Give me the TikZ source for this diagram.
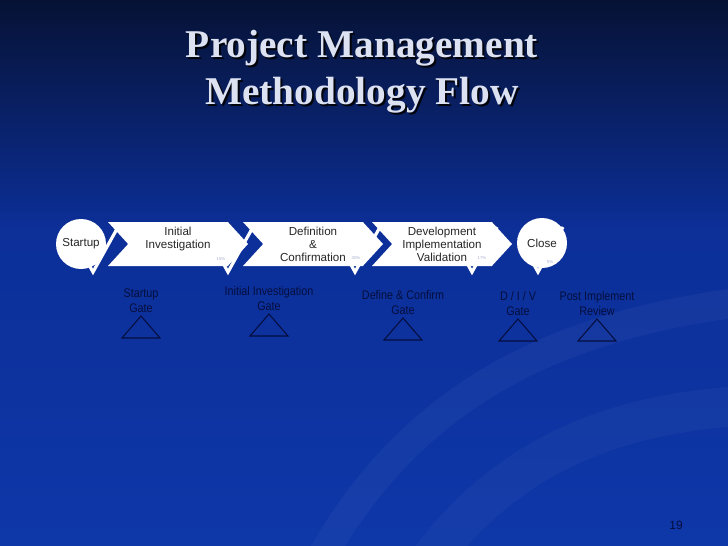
\documentclass[tikz,border=0pt]{standalone}
\usepackage{fontspec}
\usetikzlibrary{shapes.symbols,positioning}
\newfontfamily\titlefont{Liberation Serif}
\newfontfamily\boxfont{Liberation Sans}
\newfontfamily\gatefont[FakeStretch=0.86]{Liberation Sans}
\definecolor{navytop}{HTML}{061235}
\definecolor{navymid}{HTML}{0C2F98}
\definecolor{navybot}{HTML}{0E37A8}
\definecolor{gateink}{HTML}{050E3E}
\definecolor{titleink}{HTML}{DDE2F2}
\definecolor{pctink}{HTML}{A8B2D0}

\tikzset{
  phase/.style={signal, signal from=west, signal to=east, signal pointer angle=95,
    fill=white, draw=none, minimum width=105pt, minimum height=33pt, inner sep=0pt,
    align=center, text=black!85, font=\boxfont\fontsize{8.7}{9.8}\selectfont},
  milestone/.style={circle, fill=white, minimum size=37.5pt, inner sep=0pt,
    text=black!85, font=\boxfont\fontsize{8.7}{9.8}\selectfont},
  gatelbl/.style={align=center, inner sep=0pt, text=gateink,
    font=\gatefont\fontsize{9.4}{11.3}\selectfont},
  gatetri/.style={draw=gateink, line width=0.8pt},
  pct/.style={inner sep=0pt, text=pctink, font=\boxfont\fontsize{3.2}{4}\selectfont},
  titletxt/.style={align=center, inner sep=0pt, text=titleink,
    font=\titlefont\bfseries\fontsize{29.5}{35.5}\selectfont},
  chk/.pic={
    \draw[white, line width=2.4pt] (-5,-9) -- (0,0) -- (25,-45);
  }
}

\begin{document}
\begin{tikzpicture}[x=0.75pt,y=-0.75pt]
\useasboundingbox (0,0) rectangle (728,546);
% background
\shade[top color=navytop, bottom color=navymid] (0,0) rectangle (728,230);
\shade[top color=navymid, bottom color=navybot] (0,230) rectangle (728,546);
\draw[white, opacity=0.035, line width=22pt] (320,560) .. controls (420,380) and (580,320) .. (760,300);
\draw[white, opacity=0.03, line width=30pt] (430,560) .. controls (520,440) and (640,410) .. (760,405);

% title
\node[titletxt, text=black!80!navytop] (titleshadow) at (364,74) {Project Management\\Methodology Flow};
\node[titletxt] (title) at (362,72) {Project Management\\Methodology Flow};

% ticks under the phases
\foreach \x in {93,228,355,472,538}
  \pic at (\x,272) {chk};

% phases
\node[milestone] (startup) at (81,244) {Startup};
\node[phase] (invest) at (178,244) {Initial\\Investigation\\\mbox{}};
\node[phase] (confirm) at (313,244) {Definition\\\&\\Confirmation};
\node[phase] (develop) at (442,244) {Development\\Implementation\\Validation};
\node[milestone] (close) at (542,243) {Close};

\node[pct] (pinvest) at (221,259) {15\%};
\node[pct] (pconfirm) at (356,258) {30\%};
\node[pct] (pdevelop) at (482,258) {17\%};
\node[pct] (pclose) at (550,262) {5\%};

% gates
\foreach \n/\x/\y/\t in {gstart/141/313/{Startup\\Gate},
    ginvest/269/311/{Initial Investigation\\Gate},
    gconfirm/403/315/{Define \& Confirm\\Gate},
    gdiv/518/316/{D / I / V\\Gate},
    greview/597/316/{Post Implement\\Review}} {
  \node[gatelbl, anchor=south] (\n) at (\x,\y) {\t};
  \draw[gatetri] (\n.south) ++(0,3) -- ++(-19,22) -- ++(38,0) -- cycle;
}

\node[inner sep=0pt, text=gateink, font=\boxfont\fontsize{9}{10}\selectfont] (page) at (676,525) {19};
\end{tikzpicture}
\end{document}
